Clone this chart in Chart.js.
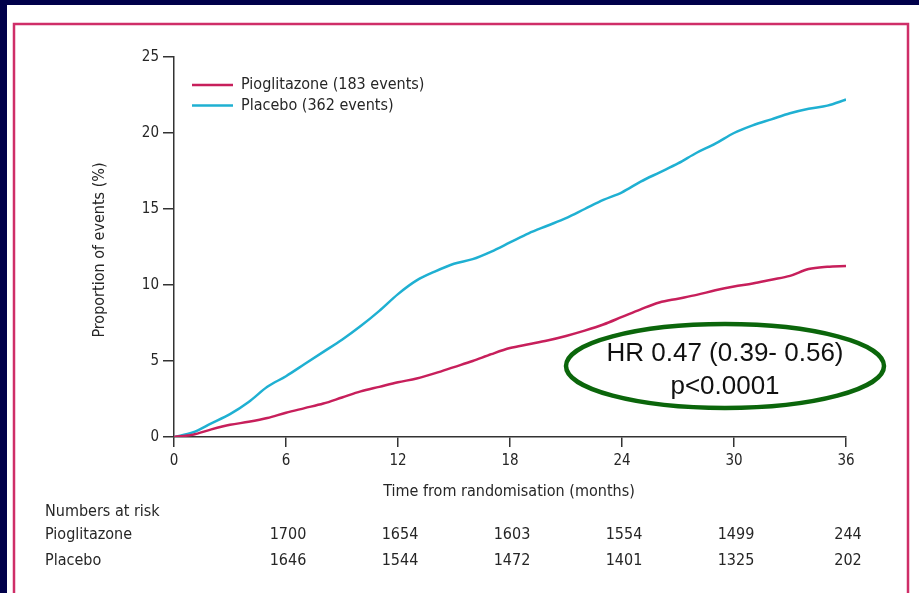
<!DOCTYPE html>
<html>
<head>
<meta charset="utf-8">
<title>PROactive - Pioglitazone vs Placebo</title>
<script src="https://cdn.jsdelivr.net/npm/chart.js@4.4.1/dist/chart.umd.min.js"></script>
<style>
  html, body { margin: 0; padding: 0; background: #00004a; }
  canvas { display: block; }
</style>
</head>
<body>
<canvas id="kmChart" width="919" height="593"></canvas>
<script>
// follow-up in months
var months = [0, 1, 2, 3, 4, 5, 6, 7, 8, 9, 10, 11, 12, 13, 14, 15, 16, 17, 18,
              19, 20, 21, 22, 23, 24, 25, 26, 27, 28, 29, 30, 31, 32, 33, 34, 35, 36];

// cumulative proportion of events (%)
var pioglitazone = [0, 0.15, 0.5, 0.8, 1.0, 1.25, 1.6, 1.9, 2.2, 2.6, 3.0, 3.3, 3.6, 3.85, 4.2, 4.6, 5.0, 5.45, 5.85,
                    6.1, 6.35, 6.65, 7.0, 7.4, 7.9, 8.4, 8.85, 9.1, 9.35, 9.65, 9.9, 10.1, 10.35, 10.6, 11.05, 11.2, 11.25];
var placebo = [0, 0.3, 0.9, 1.5, 2.3, 3.3, 4.0, 4.8, 5.6, 6.4, 7.3, 8.3, 9.4, 10.3, 10.9, 11.4, 11.7, 12.2, 12.8,
               13.4, 13.9, 14.4, 15.0, 15.6, 16.1, 16.8, 17.4, 18.0, 18.7, 19.3, 20.0, 20.5, 20.9, 21.3, 21.6, 21.8, 22.2];

var seriesNames = ['Pioglitazone (183 events)', 'Placebo (362 events)'];

// numbers at risk table
var riskMonths = [6, 12, 18, 24, 30, 36];
var riskPioglitazone = [1700, 1654, 1603, 1554, 1499, 244];
var riskPlacebo = [1646, 1544, 1472, 1401, 1325, 202];

var hrText = ['HR 0.47 (0.39- 0.56)', 'p<0.0001'];

var PIO_COLOR = '#c71f5b';
var PLA_COLOR = '#1fb0d2';
var INK = '#262626';
var FONT = '"DejaVu Sans Condensed", "Liberation Sans Narrow", "DejaVu Sans", sans-serif';

function toPoints(ys) {
    return months.map(function (m, i) { return { x: m, y: ys[i] }; });
}

var framePlugin = {
    id: 'frame',
    beforeDraw: function (chart) {
        var ctx = chart.ctx;
        ctx.save();
        ctx.fillStyle = '#00004a';
        ctx.fillRect(0, 0, chart.width, chart.height);
        ctx.fillStyle = '#ffffff';
        ctx.fillRect(7, 5, chart.width - 7, chart.height - 5);
        ctx.strokeStyle = '#cf2e68';
        ctx.lineWidth = 2.5;
        ctx.beginPath();
        ctx.moveTo(14, chart.height + 5);
        ctx.lineTo(14, 24);
        ctx.lineTo(908, 24);
        ctx.lineTo(908, chart.height + 5);
        ctx.stroke();
        ctx.restore();
    },
    afterDraw: function (chart) {
        var ctx = chart.ctx;
        var xs = chart.scales.x;
        var area = chart.chartArea;
        ctx.save();

        // legend
        var legendColors = [PIO_COLOR, PLA_COLOR];
        ctx.font = '16px ' + FONT;
        ctx.textBaseline = 'middle';
        ctx.textAlign = 'left';
        seriesNames.forEach(function (name, i) {
            var y = 85 + i * 20.5;
            ctx.strokeStyle = legendColors[i];
            ctx.lineWidth = 2.5;
            ctx.beginPath();
            ctx.moveTo(192, y);
            ctx.lineTo(233, y);
            ctx.stroke();
            ctx.fillStyle = INK;
            ctx.fillText(name, 241, y);
        });

        // axis titles
        ctx.textAlign = 'center';
        ctx.fillText('Time from randomisation (months)', 509, 492);
        ctx.save();
        ctx.translate(100, 250);
        ctx.rotate(-Math.PI / 2);
        ctx.fillText('Proportion of events (%)', 0, 0);
        ctx.restore();

        // numbers at risk
        ctx.textAlign = 'left';
        ctx.fillText('Numbers at risk', 45, 512);
        ctx.fillText('Pioglitazone', 45, 535);
        ctx.fillText('Placebo', 45, 561);
        ctx.textAlign = 'center';
        riskMonths.forEach(function (m, i) {
            var px = xs.getPixelForValue(m) + 2;
            ctx.fillText(String(riskPioglitazone[i]), px, 535);
            ctx.fillText(String(riskPlacebo[i]), px, 561);
        });

        // hazard ratio callout
        ctx.strokeStyle = '#0b660b';
        ctx.lineWidth = 4.5;
        ctx.beginPath();
        ctx.ellipse(725, 366, 159, 42, 0, 0, Math.PI * 2);
        ctx.stroke();
        ctx.fillStyle = '#111111';
        ctx.font = '26px "Liberation Sans", Arial, sans-serif';
        ctx.fillText(hrText[0], 725, 354);
        ctx.fillText(hrText[1], 725, 387);

        ctx.restore();
    }
};

var ctx = document.getElementById('kmChart');
var kmChart = new Chart(ctx, {
    type: 'line',
    data: {
        datasets: [{
            label: seriesNames[0],
            data: toPoints(pioglitazone),
            borderColor: PIO_COLOR,
            borderWidth: 2.5,
            pointRadius: 0,
            cubicInterpolationMode: 'monotone',
            fill: false
        }, {
            label: seriesNames[1],
            data: toPoints(placebo),
            borderColor: PLA_COLOR,
            borderWidth: 2.5,
            pointRadius: 0,
            cubicInterpolationMode: 'monotone',
            fill: false
        }]
    },
    options: {
        responsive: false,
        animation: false,
        layout: { padding: { left: 0, top: 57, right: 73, bottom: 0 } },
        plugins: {
            legend: { display: false },
            tooltip: { enabled: false }
        },
        scales: {
            x: {
                type: 'linear',
                min: 0,
                max: 36,
                ticks: {
                    stepSize: 6,
                    color: INK,
                    padding: 5,
                    font: { family: FONT, size: 15 }
                },
                grid: { drawOnChartArea: false, drawTicks: true, tickLength: 10, color: '#333', lineWidth: 1.5 },
                border: { display: true, color: '#333', width: 1.5 },
                afterFit: function (scale) { scale.height = 156; }
            },
            y: {
                min: 0,
                max: 25,
                ticks: {
                    stepSize: 5,
                    color: INK,
                    padding: 4,
                    font: { family: FONT, size: 15 }
                },
                grid: { drawOnChartArea: false, drawTicks: true, tickLength: 11, color: '#333', lineWidth: 1.5 },
                border: { display: true, color: '#333', width: 1.5 },
                afterFit: function (scale) { scale.width = 174; }
            }
        }
    },
    plugins: [framePlugin]
});
</script>
</body>
</html>
